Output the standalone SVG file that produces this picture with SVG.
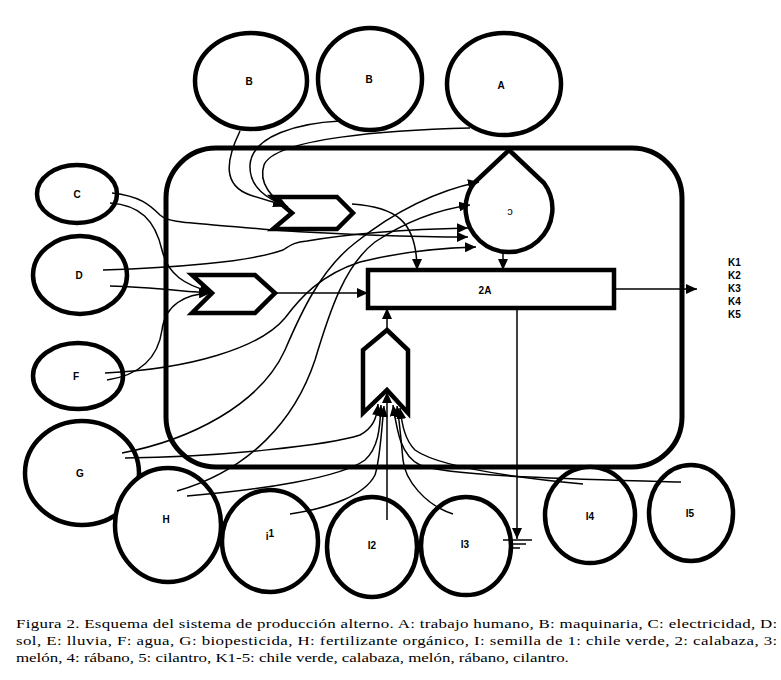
<svg xmlns="http://www.w3.org/2000/svg" width="781" height="680" viewBox="0 0 781 680">
<style>
  .node { fill: #fff; stroke: #000; stroke-width: 4.5; }
  .frame { fill: none; stroke: #000; stroke-width: 5; }
  .lbl { font-family: "Liberation Sans", Arial, sans-serif; font-weight: bold; font-size: 10px; fill: #000; text-anchor: middle; dominant-baseline: central; }
  .k { font-family: "Liberation Sans", Arial, sans-serif; font-weight: bold; font-size: 10px; fill: #000; }
  .conn { fill: none; stroke: #000; stroke-width: 1.5; }
  .cap { font-family: "Liberation Serif", "Times New Roman", serif; font-size: 13.5px; fill: #000; }
</style>
<defs>
  <marker id="arr" markerUnits="userSpaceOnUse" markerWidth="12" markerHeight="10" refX="11" refY="5" orient="auto">
    <path d="M0,0 L11,5 L0,10 Z" fill="#000"/>
  </marker>
</defs>
<rect width="781" height="680" fill="#fff"/>

<g id="frame">
  <rect class="frame" x="166" y="148" width="516" height="319" rx="50" ry="50"/>
</g>

<g id="node-B1"><ellipse class="node" cx="251" cy="81" rx="56" ry="48"/><text class="lbl" x="249" y="81">B</text></g>
<g id="node-B2"><ellipse class="node" cx="370" cy="79" rx="52" ry="51"/><text class="lbl" x="369" y="79">B</text></g>
<g id="node-A"><ellipse class="node" cx="504" cy="84" rx="57" ry="51"/><text class="lbl" x="501" y="85">A</text></g>
<g id="node-C"><ellipse class="node" cx="77" cy="194" rx="40" ry="29"/><text class="lbl" x="77" y="194">C</text></g>
<g id="node-D"><ellipse class="node" cx="80" cy="275" rx="47" ry="39"/><text class="lbl" x="79" y="275">D</text></g>
<g id="node-F"><ellipse class="node" cx="78" cy="376" rx="45" ry="33"/><text class="lbl" x="76" y="376">F</text></g>
<g id="node-G"><ellipse class="node" cx="82" cy="473" rx="57" ry="52"/><text class="lbl" x="80" y="473">G</text></g>
<g id="node-H"><ellipse class="node" cx="168" cy="525" rx="53" ry="57"/><text class="lbl" x="166" y="519">H</text></g>
<g id="node-I1"><ellipse class="node" cx="270" cy="541" rx="48" ry="51"/><text class="lbl" x="270" y="536">i<tspan dy="-3">1</tspan></text></g>
<g id="node-I2"><ellipse class="node" cx="372" cy="547" rx="45" ry="50"/><text class="lbl" x="372" y="545">I2</text></g>
<g id="node-I3"><ellipse class="node" cx="466" cy="546" rx="45" ry="49"/><text class="lbl" x="465" y="544">I3</text></g>
<g id="node-I4"><ellipse class="node" cx="590" cy="515" rx="45" ry="48"/><text class="lbl" x="590" y="516">I4</text></g>
<g id="node-I5"><ellipse class="node" cx="691" cy="513" rx="42" ry="48"/><text class="lbl" x="690" y="513">I5</text></g>

<g id="node-P1"><path class="node" d="M273,197 L337,197 L353,213 L337,229 L273,229 L292,213 Z"/></g>
<g id="node-P2"><path class="node" d="M192,275 L255,275 L275,293 L255,313 L192,313 L212,293 Z"/></g>
<g id="node-P3"><path class="node" d="M387,330 L408,350 L408,413 L387,390 L363,413 L363,350 Z"/></g>
<g id="node-E"><path class="node" d="M509,150 L544,183 A43.4,43.4 0 1 1 474,183 Z"/><text class="lbl" x="510" y="211" style="font-weight:normal;font-size:11px">ɔ</text></g>
<g id="node-2A"><rect class="node" x="368" y="270" width="246" height="38"/><text class="lbl" x="485" y="290">2A</text></g>

<g id="outputs">
  <text class="k" x="728" y="266">K1</text>
  <text class="k" x="728" y="279">K2</text>
  <text class="k" x="728" y="292">K3</text>
  <text class="k" x="728" y="305">K4</text>
  <text class="k" x="728" y="318">K5</text>
</g>

<g id="connectors">
  <path class="conn" marker-end="url(#arr)" d="M240,131 C226,160 222,185 250,195 C262,199 272,202 284,205"/>
  <path class="conn" marker-end="url(#arr)" d="M340,121 C300,123 252,135 250,165 C249,188 268,199 286,206"/>
  <path class="conn" marker-end="url(#arr)" d="M470,128 C390,130 275,138 264,165 C258,183 272,199 288,207"/>
  <path class="conn" marker-end="url(#arr)" d="M112,193 C140,196 150,205 160,215 C170,224 190,222 273,230 C350,235 420,237 468,237"/>
  <path class="conn" marker-end="url(#arr)" d="M110,203 C140,205 155,220 162,250 C168,275 185,285 211,292"/>
  <path class="conn" marker-end="url(#arr)" d="M103,270 C170,268 250,262 283,250 C292,244 296,242 307,241 C360,232 420,229 468,228"/>
  <path class="conn" marker-end="url(#arr)" d="M110,286 C150,287 180,291 211,293"/>
  <path class="conn" marker-end="url(#arr)" d="M105,373 C190,369 260,348 285,318 C300,298 320,275 360,262 C400,252 440,248 476,247"/>
  <path class="conn" marker-end="url(#arr)" d="M107,380 C140,375 158,358 162,330 C165,305 185,294 210,293"/>
  <path class="conn" marker-end="url(#arr)" d="M122,453 C190,440 260,405 285,350 C300,315 320,270 355,243 C390,215 430,192 479,182"/>
  <path class="conn" marker-end="url(#arr)" d="M177,491 C250,470 295,420 315,360 C330,310 345,265 375,242 C405,222 435,210 470,205"/>
  <path class="conn" marker-end="url(#arr)" d="M125,458 C220,457 330,445 360,435 C373,428 377,418 378,404"/>
  <path class="conn" marker-end="url(#arr)" d="M187,496 C260,490 340,478 365,460 C378,448 380,430 381,405"/>
  <path class="conn" marker-end="url(#arr)" d="M290,514 C330,508 365,495 375,475 C380,460 381,435 384,406"/>
  <path class="conn" marker-end="url(#arr)" d="M387,520 L387,392"/>
  <path class="conn" marker-end="url(#arr)" d="M453,514 C425,505 405,480 403,460 C401,440 400,425 397,406"/>
  <path class="conn" marker-end="url(#arr)" d="M583,484 C520,478 440,468 415,450 C405,440 402,425 400,408"/>
  <path class="conn" marker-end="url(#arr)" d="M681,482 C600,480 450,477 420,465 C400,455 397,430 393,405"/>
  <path class="conn" marker-end="url(#arr)" d="M352,204 C395,207 417,220 417,270"/>
  <path class="conn" marker-end="url(#arr)" d="M275,293 L368,293"/>
  <path class="conn" marker-end="url(#arr)" d="M503,252 L503,270"/>
  <path class="conn" marker-end="url(#arr)" d="M387,330 L387,308"/>
  <path class="conn" marker-end="url(#arr)" d="M614,289 L697,289"/>
  <path class="conn" marker-end="url(#arr)" d="M517,308 L517,539"/>
  <path class="conn" d="M503,540 H532 M509,544 H526 M513,548 H520"/>
</g>

<g id="caption" transform="translate(16,0) scale(1.25,1)">
  <text class="cap" x="0" y="628" textLength="609" lengthAdjust="spacing">Figura 2. Esquema del sistema de producción alterno. A: trabajo humano, B: maquinaria, C: electricidad, D:</text>
  <text class="cap" x="0" y="645" textLength="609" lengthAdjust="spacing">sol, E: lluvia, F: agua, G: biopesticida, H: fertilizante orgánico, I: semilla de 1: chile verde, 2: calabaza, 3:</text>
  <text class="cap" x="0" y="662">melón, 4: rábano, 5: cilantro, K1-5: chile verde, calabaza, melón, rábano, cilantro.</text>
</g>
</svg>
